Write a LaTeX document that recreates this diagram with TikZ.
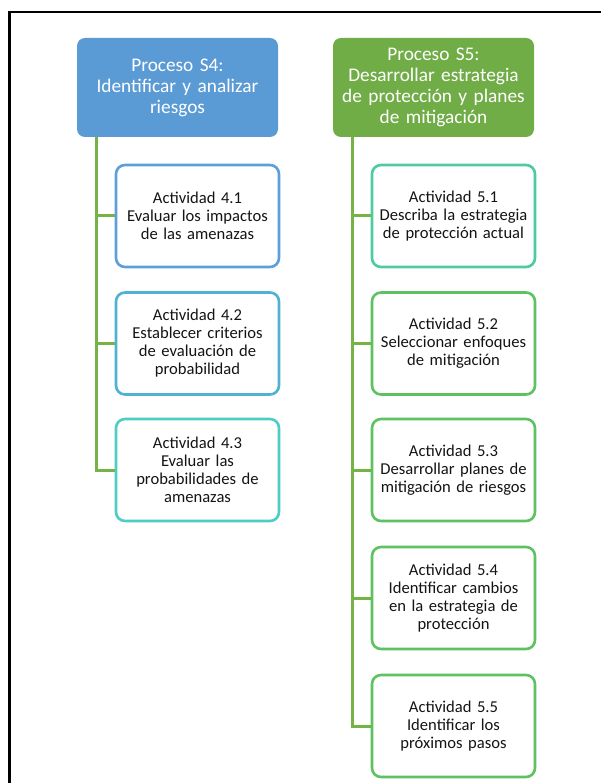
\documentclass[tikz,border=0pt]{standalone}
\usepackage{fontspec}
\setmainfont{Carlito}
\definecolor{hblue}{HTML}{5B9BD5}
\definecolor{hgreen}{HTML}{70AD47}
\definecolor{lgreen}{HTML}{76B346}
\definecolor{c41}{HTML}{5B9FDB}
\definecolor{c42}{HTML}{4FB2D2}
\definecolor{c43}{HTML}{4DCDC4}
\definecolor{c51}{HTML}{4DCB9E}
\definecolor{c52}{HTML}{5CC262}
\definecolor{txt}{HTML}{141414}
\begin{document}
\begin{tikzpicture}[x=1pt,y=-1pt,
  head/.style={rounded corners=8pt, minimum width=201pt, minimum height=99pt,
    text width=196pt, align=center, text=white, font=\fontsize{19.3}{21}\selectfont, inner sep=0pt},
  act/.style={draw, line width=2.6pt, rounded corners=9pt, fill=white, minimum width=163pt,
    minimum height=102pt, text width=158pt, align=center, text=txt,
    font=\fontsize{16.6}{18}\selectfont, inner sep=0pt},
  link/.style={draw=lgreen, line width=3pt}]
\useasboundingbox (0,0) rectangle (601,783);
\draw[line width=2.6pt] (9.5,800) -- (9.5,12) -- (610,12);
% headers
\node[head, fill=hblue] (s4) at (177.5,87.5) {Proceso S4:\\Identificar y analizar\\riesgos};
\node[head, fill=hgreen] (s5) at (433.5,87.5) {Proceso S5:\\Desarrollar estrategia\\de protección y planes\\de mitigación};
% activities S4
\node[act, draw=c41] (a41) at (197.5,216) {Actividad 4.1\\Evaluar los impactos\\de las amenazas};
\node[act, draw=c42] (a42) at (197.5,343.5) {Actividad 4.2\\Establecer criterios\\de evaluación de\\probabilidad};
\node[act, draw=c43] (a43) at (197.5,470) {Actividad 4.3\\Evaluar las\\probabilidades de\\amenazas};
% activities S5
\node[act, draw=c51] (a51) at (453.5,216) {Actividad 5.1\\Describa la estrategia\\de protección actual};
\node[act, draw=c52] (a52) at (453.5,343.5) {Actividad 5.2\\Seleccionar enfoques\\de mitigación};
\node[act, draw=c52] (a53) at (453.5,470) {Actividad 5.3\\Desarrollar planes de\\mitigación de riesgos};
\node[act, draw=c52] (a54) at (453.5,598) {Actividad 5.4\\Identificar cambios\\en la estrategia de\\protección};
\node[act, draw=c52] (a55) at (453.5,726) {Actividad 5.5\\Identificar los\\próximos pasos};
% connectors
\coordinate (l4) at (96,0);
\coordinate (l5) at (352,0);
\draw[link] (s4.south -| l4) -- (a43.west -| l4) -- (a43.west);
\draw[link] (a41.west -| l4) -- (a41.west);
\draw[link] (a42.west -| l4) -- (a42.west);
\draw[link] (s5.south -| l5) -- (a55.west -| l5) -- (a55.west);
\draw[link] (a51.west -| l5) -- (a51.west);
\draw[link] (a52.west -| l5) -- (a52.west);
\draw[link] (a53.west -| l5) -- (a53.west);
\draw[link] (a54.west -| l5) -- (a54.west);
\end{tikzpicture}
\end{document}
